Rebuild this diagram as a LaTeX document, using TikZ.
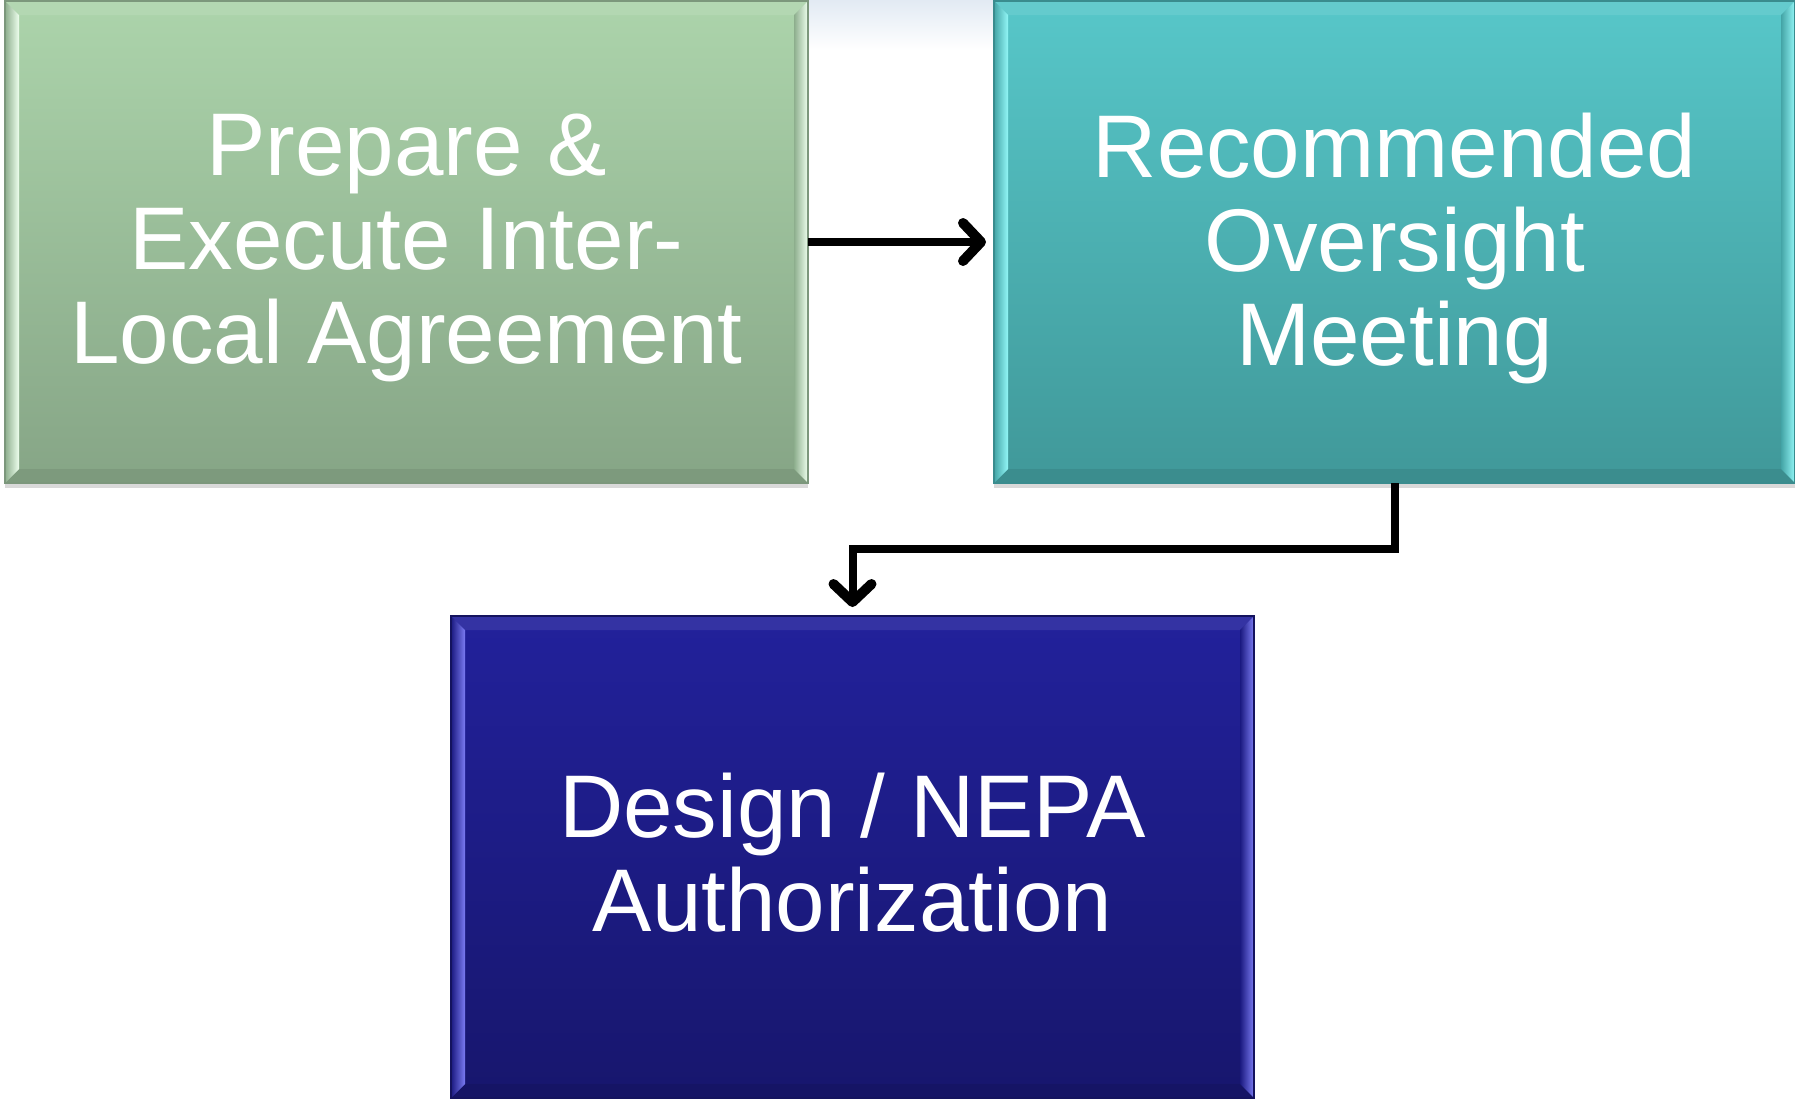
\documentclass[tikz,border=0pt]{standalone}
\usepackage{fontspec}
\setmainfont{Liberation Sans}
\usetikzlibrary{arrows.meta,shadows,calc}
\definecolor{gTop}{HTML}{ACD4AB}
\definecolor{gBot}{HTML}{86A586}
\definecolor{gDark}{HTML}{8DAE8D}
\definecolor{gHi}{HTML}{EEFFEE}
\definecolor{gLine}{HTML}{7C977C}
\definecolor{tTop}{HTML}{57C7C9}
\definecolor{tBot}{HTML}{409899}
\definecolor{tDark}{HTML}{44A4A6}
\definecolor{tHi}{HTML}{92F7F7}
\definecolor{tLine}{HTML}{3A8C8E}
\definecolor{bTop}{HTML}{22219B}
\definecolor{bBot}{HTML}{17166D}
\definecolor{bDark}{HTML}{1A1980}
\definecolor{bHi}{HTML}{7B7BF2}
\definecolor{bLine}{HTML}{14135E}
\definecolor{haze}{HTML}{E2EAF3}
\newcommand\bevelbox[6]{%
  % #1 node, #2 dark, #3 highlight, #4 top bevel, #5 bottom bevel, #6 outline
  \fill[#4] (#1.north west) -- ($(#1.north west)+(14pt,-14pt)$) -- ($(#1.north east)+(-14pt,-14pt)$) -- (#1.north east) -- cycle;
  \fill[#5] (#1.south west) -- ($(#1.south west)+(14pt,14pt)$) -- ($(#1.south east)+(-14pt,14pt)$) -- (#1.south east) -- cycle;
  \shade[left color=#2, right color=#3] (#1.north west) -- ($(#1.north west)+(14pt,-14pt)$) -- ($(#1.south west)+(14pt,14pt)$) -- (#1.south west) -- cycle;
  \shade[left color=#2, right color=#3] (#1.north east) -- ($(#1.north east)+(-14pt,-14pt)$) -- ($(#1.south east)+(-14pt,14pt)$) -- (#1.south east) -- cycle;
  \draw[#6, line width=1.2pt] (#1.north west) rectangle (#1.south east);
}
\tikzset{
  stagebox/.style={minimum width=803pt, minimum height=482pt, inner sep=0pt, outer sep=0pt,
    drop shadow={shadow xshift=0pt, shadow yshift=-5pt, opacity=0.3}},
  stagetext/.style={text=white, align=center, font=\fontsize{89}{94}\selectfont},
  conn/.style={line width=8pt, -{Straight Barb[length=18pt,width=38pt,line width=10pt,round]}},
}
\begin{document}
\begin{tikzpicture}[x=1pt,y=-1pt]
\useasboundingbox (0,0) rectangle (1795,1098);
\shade[top color=haze, bottom color=white] (809,0) rectangle (994,50);
% boxes
\node[stagebox, top color=gTop, bottom color=gBot] (green) at (406.5,242) {};
\node[stagebox, minimum width=801pt, top color=tTop, bottom color=tBot] (teal) at (1394.5,242) {};
\node[stagebox, top color=bTop, bottom color=bBot] (blue) at (852.5,857) {};
\bevelbox{green}{gDark}{gHi}{gTop!92!white}{gBot!93!black}{gLine}
\bevelbox{teal}{tDark}{tHi}{tTop!92!white}{tBot!93!black}{tLine}
\bevelbox{blue}{bDark}{bHi}{bTop!92!white}{bBot!93!black}{bLine}
% texts
\node[stagetext] (greent) at ([yshift=-6pt]green.center) {Prepare \&\\Execute Inter-\\Local Agreement};
\node[stagetext] (tealt) at ([yshift=-6pt]teal.center) {Recommended\\Oversight\\Meeting};
\node[stagetext] (bluet) at ([yshift=4pt]blue.center) {Design / NEPA\\Authorization};
% connectors
\draw[conn] (green.east) -- ([xshift=-8pt]teal.west);
\draw[conn] (teal.south) -- ++(0,66) -| ([yshift=9pt]blue.north);
\end{tikzpicture}
\end{document}
